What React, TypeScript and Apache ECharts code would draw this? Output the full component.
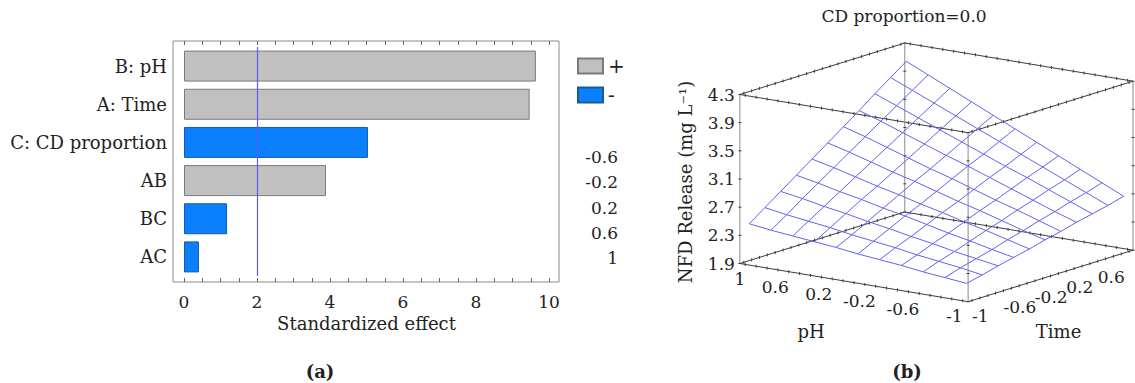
import React, { useEffect, useRef } from 'react';
import * as echarts from 'echarts';

// ---------- Panel (a): Pareto chart of standardized effects ----------
const factors = ['B: pH', 'A: Time', 'C: CD proportion', 'AB', 'BC', 'AC'];
const standardizedEffects = [9.64, 9.47, 5.04, 3.89, 1.18, 0.41];
const effectSigns = ['+', '+', '-', '+', '-', '-'];
const criticalEffect = 2.0;
const effectTicks = [0, 2, 4, 6, 8, 10];
const strayLabels = ['-0.6', '-0.2', '0.2', '0.6', '1'];

// ---------- Panel (b): response surface ----------
const cdProportionLabel = 'CD proportion=0.0';
const phLevels = [1, 0.8, 0.6, 0.4, 0.2, 0, -0.2, -0.4, -0.6, -0.8, -1];
const timeLevels = [-1, -0.8, -0.6, -0.4, -0.2, 0, 0.2, 0.4, 0.6, 0.8, 1];
// rows: pH levels (phLevels order), columns: time levels (timeLevels order)
const nfdRelease = [
  [2.46, 2.62, 2.78, 2.94, 3.10, 3.26, 3.42, 3.58, 3.75, 3.91, 4.07],
  [2.42, 2.57, 2.73, 2.88, 3.03, 3.18, 3.33, 3.48, 3.63, 3.78, 3.93],
  [2.39, 2.53, 2.67, 2.81, 2.95, 3.09, 3.23, 3.37, 3.51, 3.65, 3.79],
  [2.36, 2.49, 2.62, 2.75, 2.87, 3.00, 3.13, 3.26, 3.39, 3.52, 3.65],
  [2.33, 2.44, 2.56, 2.68, 2.80, 2.92, 3.03, 3.15, 3.27, 3.39, 3.51],
  [2.29, 2.40, 2.51, 2.62, 2.72, 2.83, 2.94, 3.05, 3.15, 3.26, 3.37],
  [2.26, 2.36, 2.45, 2.55, 2.65, 2.74, 2.84, 2.94, 3.03, 3.13, 3.23],
  [2.23, 2.31, 2.40, 2.48, 2.57, 2.66, 2.74, 2.83, 2.92, 3.00, 3.09],
  [2.19, 2.27, 2.34, 2.42, 2.50, 2.57, 2.65, 2.72, 2.80, 2.87, 2.95],
  [2.16, 2.23, 2.29, 2.35, 2.42, 2.48, 2.55, 2.61, 2.68, 2.74, 2.81],
  [2.13, 2.18, 2.24, 2.29, 2.34, 2.40, 2.45, 2.51, 2.56, 2.61, 2.67],
];
const phTickLabels = [1, 0.6, 0.2, -0.2, -0.6, -1];
const timeTickLabels = [-1, -0.6, -0.2, 0.2, 0.6];
const releaseTicks = [1.9, 2.3, 2.7, 3.1, 3.5, 3.9, 4.3];

// ---------- 3D box / view settings ----------
const BOX = { pMin: -1.05, pMax: 1.05, tMin: -1.05, tMax: 1.05, zMin: 1.9, zMax: 4.3 };
const P_VEC = [-232.5, 38.2];
const T_VEC = [168, 51.5];
const Z_VEC = [0, 169];

const SERIF = 'DejaVu Serif';
const TXT = '#222';
const SURF = '#6262ee';
const FS = 17;

function proj(api: any, p: number, t: number, z: number) {
  const fp = (p - BOX.pMin) / (BOX.pMax - BOX.pMin);
  const ft = (t - BOX.tMin) / (BOX.tMax - BOX.tMin);
  const fz = (z - BOX.zMin) / (BOX.zMax - BOX.zMin);
  const x = P_VEC[0] * fp + T_VEC[0] * ft + Z_VEC[0] * fz;
  const y = P_VEC[1] * fp + T_VEC[1] * ft + Z_VEC[1] * fz;
  return api.coord([x, y]);
}

function seg(a: number[], b: number[], stroke: string, w = 1) {
  return {
    type: 'line',
    shape: { x1: a[0], y1: a[1], x2: b[0], y2: b[1] },
    style: { stroke, lineWidth: w },
  };
}

function txt(x: number, y: number, text: string, align: string, vAlign = 'middle', size = FS, rotation = 0) {
  return {
    type: 'text',
    x,
    y,
    rotation,
    style: {
      text,
      fill: TXT,
      fontSize: size,
      fontFamily: SERIF,
      align,
      verticalAlign: vAlign,
    },
  };
}

function renderBox(params: any, api: any) {
  const children: any[] = [];
  const { pMin, pMax, tMin, tMax, zMin, zMax } = BOX;
  const dark = '#3c3c3c';
  const grey = '#8a8a8a';
  [tMin, tMax].forEach((t) => {
    [zMin, zMax].forEach((z) => {
      children.push(seg(proj(api, pMin, t, z), proj(api, pMax, t, z), dark));
      for (let k = -10; k <= 10; k++) {
        const q = proj(api, k / 10, t, z);
        children.push(seg([q[0], q[1] - 1.5], [q[0], q[1] + 1.5], dark));
      }
    });
  });
  [pMin, pMax].forEach((p) => {
    [zMin, zMax].forEach((z) => {
      children.push(seg(proj(api, p, tMin, z), proj(api, p, tMax, z), dark));
      for (let k = -10; k <= 10; k++) {
        const q = proj(api, p, k / 10, z);
        children.push(seg([q[0], q[1] - 1.5], [q[0], q[1] + 1.5], dark));
      }
    });
  });
  [pMin, pMax].forEach((p) => {
    [tMin, tMax].forEach((t) => {
      children.push(seg(proj(api, p, t, zMin), proj(api, p, t, zMax), grey));
      releaseTicks.forEach((z) => {
        const q = proj(api, p, t, z);
        children.push(seg([q[0] - 1.5, q[1]], [q[0] + 1.5, q[1]], dark));
      });
    });
  });
  releaseTicks.forEach((z) => {
    const q = proj(api, pMax, tMin, z);
    children.push(txt(q[0] - 5, q[1], z.toFixed(1), 'right'));
  });
  phTickLabels.forEach((p) => {
    const q = proj(api, p, tMin, zMin);
    children.push(txt(q[0], q[1] + 15, String(p), 'right'));
  });
  timeTickLabels.forEach((t) => {
    const q = proj(api, pMin, t, zMin);
    children.push(txt(q[0], q[1] + 16, String(t), 'left'));
  });
  const mp = proj(api, 0, tMin, zMin);
  children.push(txt(mp[0] - 43, mp[1] + 49, 'pH', 'center', 'middle', 18));
  const mt = proj(api, pMin, 0, zMin);
  children.push(txt(mt[0] + 8, mt[1] + 56, 'Time', 'center', 'middle', 18));
  const mz = proj(api, pMax, tMin, (zMin + zMax) / 2);
  children.push(txt(mz[0] - 54, mz[1] + 3, 'NFD Release (mg L\u207B\u00B9)', 'center', 'middle', 18, Math.PI / 2));
  return { type: 'group', children };
}

function renderSurface(params: any, api: any) {
  const i = params.dataIndex;
  const rowPts = timeLevels.map((t, j) => proj(api, phLevels[i], t, nfdRelease[i][j]));
  const colPts = phLevels.map((p, k) => proj(api, p, timeLevels[i], nfdRelease[k][i]));
  return {
    type: 'group',
    children: [
      { type: 'polyline', shape: { points: rowPts }, style: { stroke: SURF, lineWidth: 1, fill: null } },
      { type: 'polyline', shape: { points: colPts }, style: { stroke: SURF, lineWidth: 1, fill: null } },
    ],
  };
}

export default function App() {
  const ref = useRef<HTMLDivElement>(null);
  useEffect(() => {
    document.body.style.margin = '0';
    const chart = echarts.init(ref.current!, undefined, { renderer: 'svg' });
    const posData = standardizedEffects.map((v, i) => (effectSigns[i] === '+' ? v : null));
    const negData = standardizedEffects.map((v, i) => (effectSigns[i] === '-' ? v : null));
    const tickFont = { fontFamily: SERIF, fontSize: FS, color: TXT };
    chart.setOption({
      animation: false,
      textStyle: { fontFamily: SERIF },
      legend: {
        data: ['+', '-'],
        orient: 'vertical',
        left: 572,
        top: 51,
        itemWidth: 25,
        itemHeight: 15,
        itemGap: 9,
        icon: 'rect',
        textStyle: { fontFamily: SERIF, fontSize: 20, color: TXT },
        selectedMode: false,
      },
      grid: [
        { left: 173, top: 41, width: 386, height: 241, show: true, borderColor: '#8c8c8c', borderWidth: 1, backgroundColor: 'transparent' },
        { left: 184, top: 41, width: 365, height: 241 },
        { left: 184, top: 47, width: 365, height: 229 },
        { left: 732.5, top: 31.7, width: 410, height: 270 },
      ],
      xAxis: [
        { gridIndex: 0, type: 'value', show: false, min: 0, max: 1 },
        {
          gridIndex: 1, type: 'value', min: 0, max: 10, interval: 0.5, position: 'bottom',
          axisLine: { show: false }, splitLine: { show: false },
          axisTick: { show: true, inside: true, length: 4, lineStyle: { color: '#666' } },
          axisLabel: { ...tickFont, margin: 11, formatter: (v: number) => (effectTicks.includes(v) ? String(v) : '') },
          name: 'Standardized effect', nameLocation: 'middle', nameGap: 32,
          nameTextStyle: { fontFamily: SERIF, fontSize: 18, color: TXT },
        },
        {
          gridIndex: 1, type: 'value', min: 0, max: 10, interval: 0.5, position: 'top',
          axisLine: { show: false }, splitLine: { show: false }, axisLabel: { show: false },
          axisTick: { show: true, inside: true, length: 4, lineStyle: { color: '#666' } },
        },
        { gridIndex: 2, type: 'value', min: 0, max: 10, show: false },
        { gridIndex: 3, type: 'value', min: -240, max: 170, show: false },
      ],
      yAxis: [
        { gridIndex: 0, type: 'value', show: false, min: 0, max: 1 },
        { gridIndex: 1, type: 'value', show: false, min: 0, max: 1 },
        {
          gridIndex: 2, type: 'category', data: factors, inverse: true,
          axisLine: { show: false }, axisTick: { show: false },
          axisLabel: { ...tickFont, fontSize: 18, margin: 17 },
        },
        { gridIndex: 3, type: 'value', min: 0, max: 270, show: false },
      ],
      series: [
        {
          name: '+', type: 'bar', xAxisIndex: 3, yAxisIndex: 2, data: posData,
          barWidth: 31, barGap: '-100%',
          itemStyle: { color: '#c0c0c0', borderColor: '#7a7a7a', borderWidth: 1 },
          markLine: {
            silent: true, symbol: ['none', 'none'], label: { show: false },
            lineStyle: { color: '#5a5aff', width: 1.2, type: 'solid', opacity: 1 },
            emphasis: { disabled: true },
            data: [{ xAxis: criticalEffect, lineStyle: { color: '#5a5aff' } }],
          },
        },
        {
          name: '-', type: 'bar', xAxisIndex: 3, yAxisIndex: 2, data: negData,
          barWidth: 31, barGap: '-100%',
          itemStyle: { color: '#0a80ff', borderColor: '#1a5a9a', borderWidth: 1 },
        },
        {
          type: 'custom', xAxisIndex: 4, yAxisIndex: 3, data: [[0, 0]],
          renderItem: renderBox, silent: true,
        },
        {
          type: 'custom', xAxisIndex: 4, yAxisIndex: 3, data: phLevels.map((p, i) => [i, p]),
          renderItem: renderSurface, silent: true,
        },
      ],
      graphic: [
        ...strayLabels.map((s, i) => ({
          type: 'text', x: 618, y: 157 + i * 25.3,
          style: { text: s, fill: TXT, fontSize: FS, fontFamily: SERIF, align: 'right', verticalAlign: 'middle' },
        })),
        {
          type: 'text', x: 904, y: 16,
          style: { text: cdProportionLabel, fill: TXT, fontSize: 17, fontFamily: SERIF, align: 'center', verticalAlign: 'middle' },
        },
        {
          type: 'text', x: 320, y: 371,
          style: { text: '(a)', fill: TXT, fontSize: 18, fontWeight: 'bold', fontFamily: SERIF, align: 'center', verticalAlign: 'middle' },
        },
        {
          type: 'text', x: 907, y: 371,
          style: { text: '(b)', fill: TXT, fontSize: 18, fontWeight: 'bold', fontFamily: SERIF, align: 'center', verticalAlign: 'middle' },
        },
      ],
    });
    return () => chart.dispose();
  }, []);
  return <div ref={ref} style={{ position: 'absolute', left: 0, top: 0, width: 1135, height: 383 }} />;
}
